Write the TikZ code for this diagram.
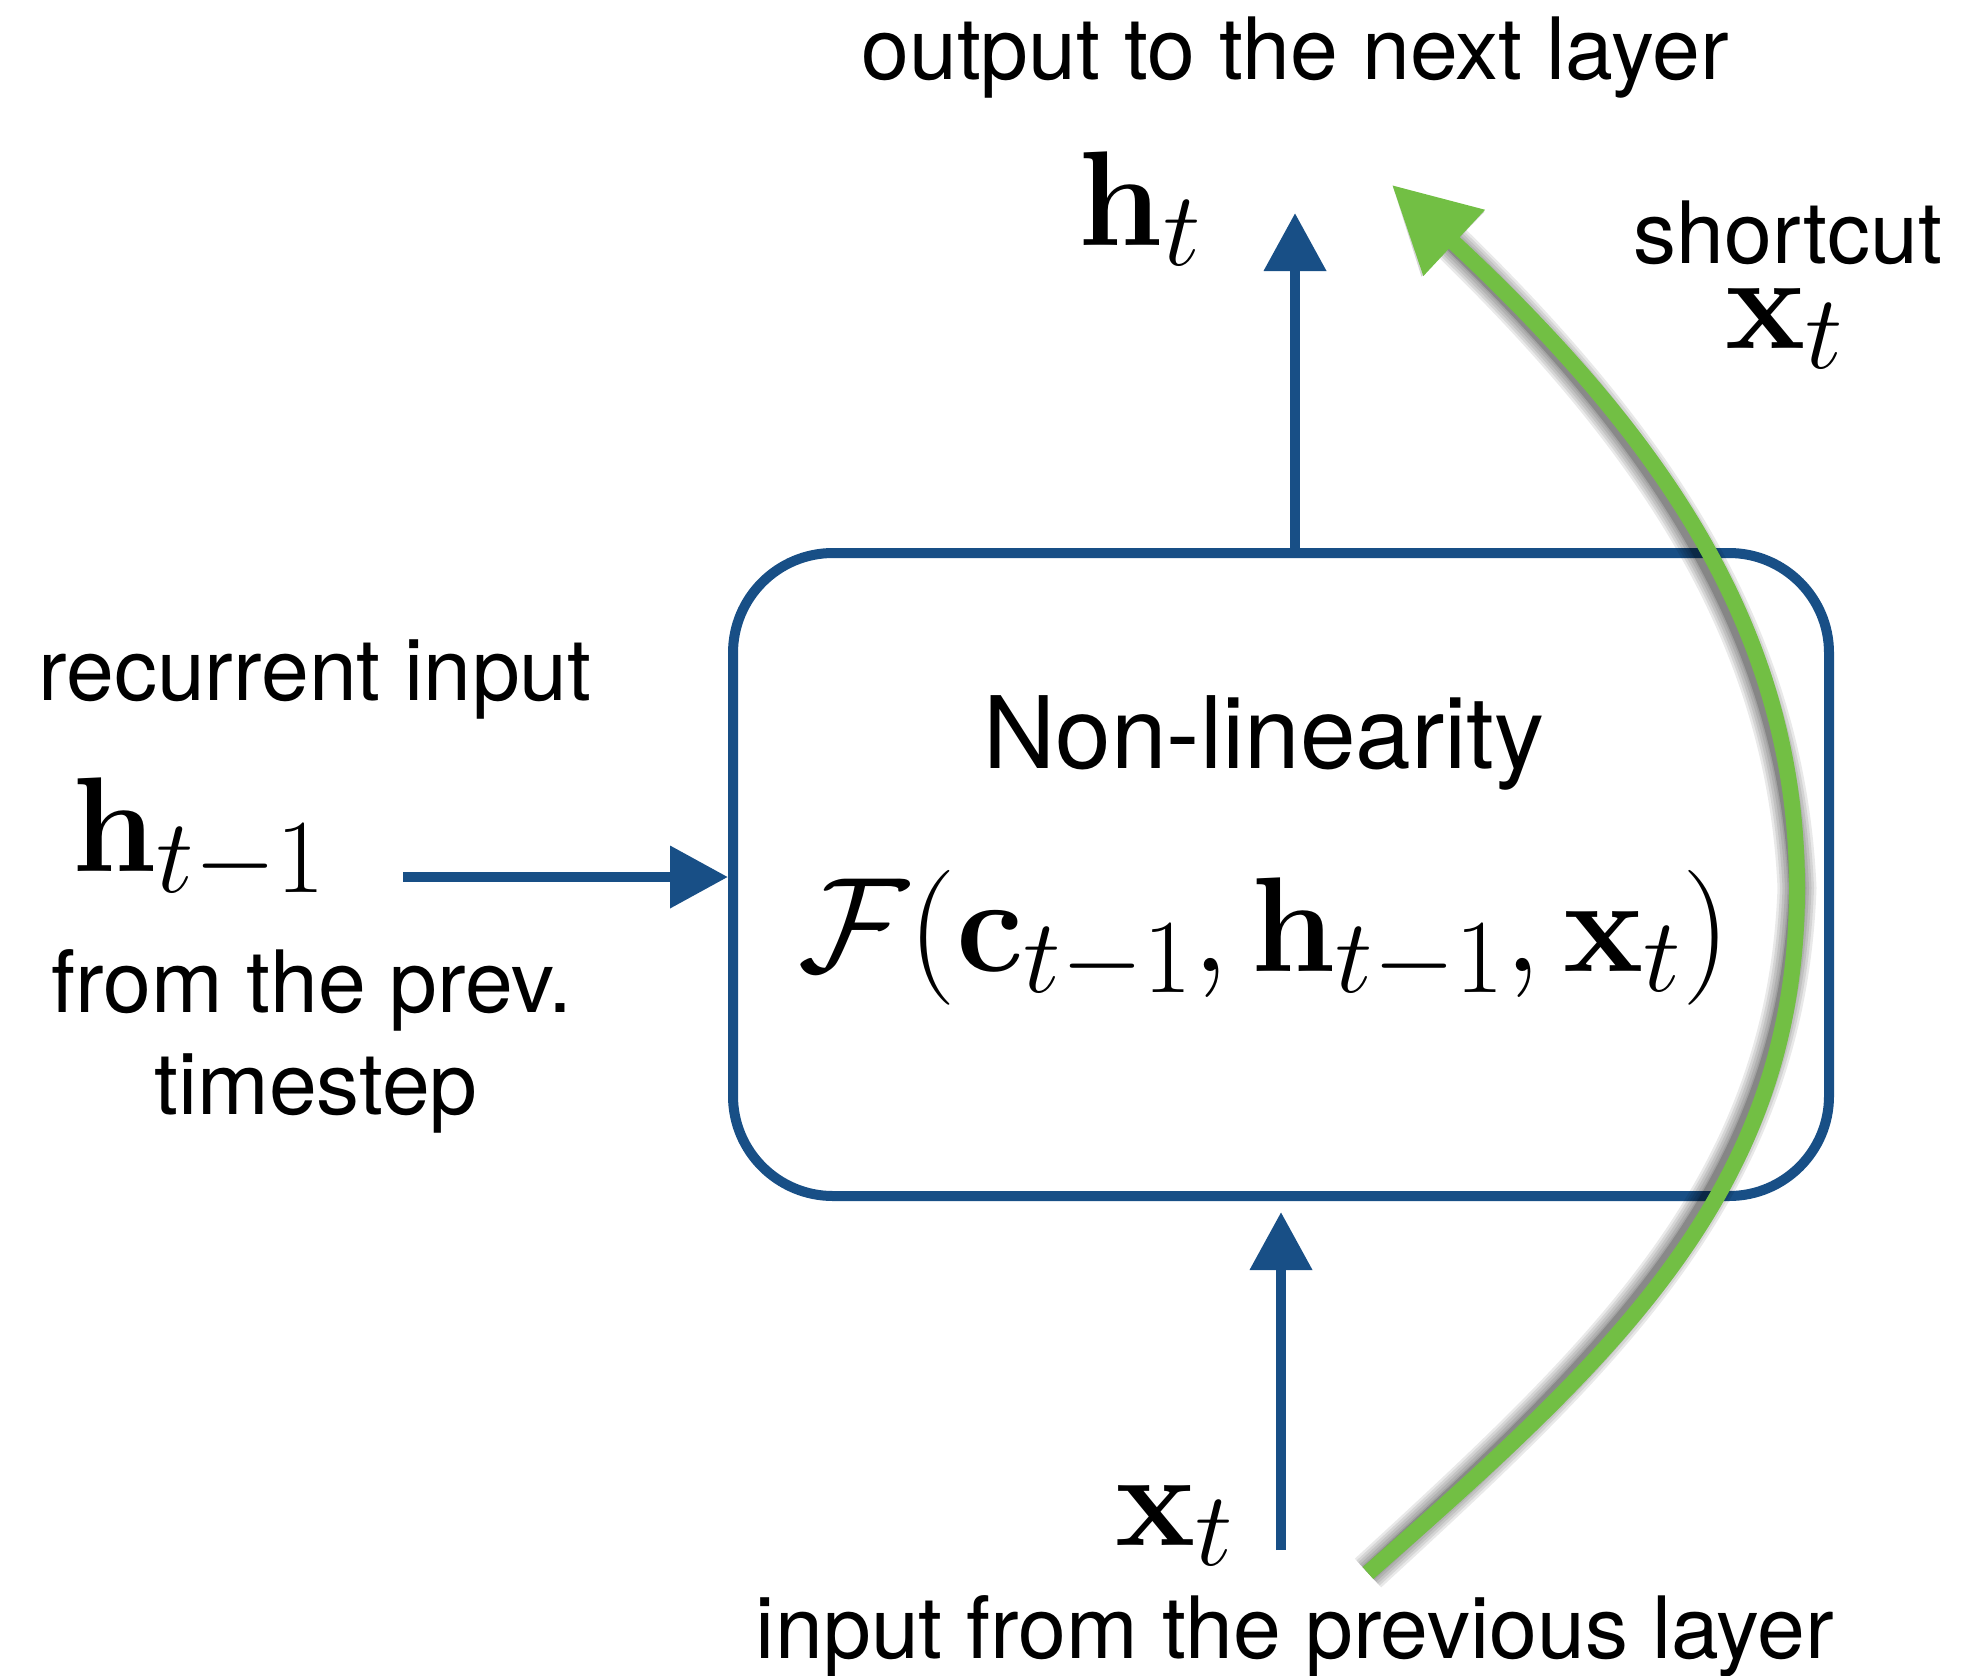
\RequirePackage{fix-cm}
\documentclass[tikz,border=0pt]{standalone}
\usepackage[no-math]{fontspec}
\setmainfont{TeX Gyre Heros}
\renewcommand{\defaultscriptratio}{.78}
\usetikzlibrary{arrows.meta}
\definecolor{nblue}{RGB}{24,79,134}
\definecolor{sgreen}{RGB}{114,191,68}
\begin{document}
\begin{tikzpicture}[x=0.5pt,y=-0.5pt,
  txt/.style={anchor=base, inner sep=0pt, font=\fontsize{43}{50}\selectfont},
  bigtxt/.style={anchor=base, inner sep=0pt, font=\fontsize{50}{58}\selectfont},
  mth/.style={anchor=base, inner sep=0pt, font=\fontsize{67.5}{75}\selectfont},
  barrow/.style={draw=nblue, line width=5.3pt, -{Triangle[length=29pt,width=30pt]}, fill=none},
  garrow/.style={draw=sgreen, line width=8pt, -{Triangle[length=42.5pt,width=43pt]}},
  gshadow/.style={draw=black, line width=#1, opacity=0.085, shorten >=38pt},
  gshadowtip/.style={draw=black, line width=8pt, opacity=0.16, -{Triangle[length=42.5pt,width=43pt]}},
  boxstyle/.style={draw=nblue, line width=5pt, rounded corners=50pt, fill=white,
    minimum width=548pt, minimum height=321.5pt, inner sep=0pt}
]
\useasboundingbox (0,0) rectangle (1962,1675);

% box
\node[boxstyle] (box) at (1281,874.5) {};

% text
\node[txt] (out) at (1295,80) {output to the next layer};
\node[mth] (ht) at (1140,245) {$\mathbf{h}_t$};
\node[txt] (sc) at (1788,263) {shortcut};
\node[mth] (xts) at (1785,348) {$\mathbf{x}_t$};
\node[txt] (rec) at (315,700) {recurrent input};
\node[mth] (htm) at (199,871) {$\mathbf{h}_{t-1}$};
\node[txt] (from) at (312,1012) {from the prev.};
\node[txt] (tstep) at (316,1114) {timestep};
\node[bigtxt] (nl) at (1264,768) {Non-linearity};
\node[mth] (f) at (1264,971) {$\mathcal{F}(\mathbf{c}_{t-1},\mathbf{h}_{t-1},\mathbf{x}_t)$};
\node[mth] (xt) at (1175,1545) {$\mathbf{x}_t$};
\node[txt] (inp) at (1295,1658) {input from the previous layer};

% blue arrows
\coordinate (topend) at (1295,213);
\coordinate (lstart) at (403,877);
\coordinate (bstart) at (1281,1550);
\coordinate (btip) at (1281,1212);
\draw[barrow] (box.north -| topend) -- (topend);
\draw[barrow] (lstart) -- (lstart -| box.west);
\draw[barrow] (bstart) -- (btip);

% green shortcut with shadow
\coordinate (gs) at (1368,1573);
\coordinate (gm) at (1797,888);
\coordinate (ge) at (1392,185);
\begin{scope}[shift={(-11,0)}]
  \foreach \w in {19.5pt,17pt,14.5pt,12pt,9.5pt} {
    \draw[gshadow=\w] (gs) .. controls (1616,1355) and (1797,1188) .. (gm)
      .. controls (1797,638) and (1669,443) .. (ge);
  }
  \draw[gshadowtip] (gs) .. controls (1616,1355) and (1797,1188) .. (gm)
      .. controls (1797,638) and (1669,443) .. (ge);
\end{scope}
\draw[garrow] (gs) .. controls (1616,1355) and (1797,1188) .. (gm)
  .. controls (1797,638) and (1669,443) .. (ge);
\end{tikzpicture}
\end{document}
